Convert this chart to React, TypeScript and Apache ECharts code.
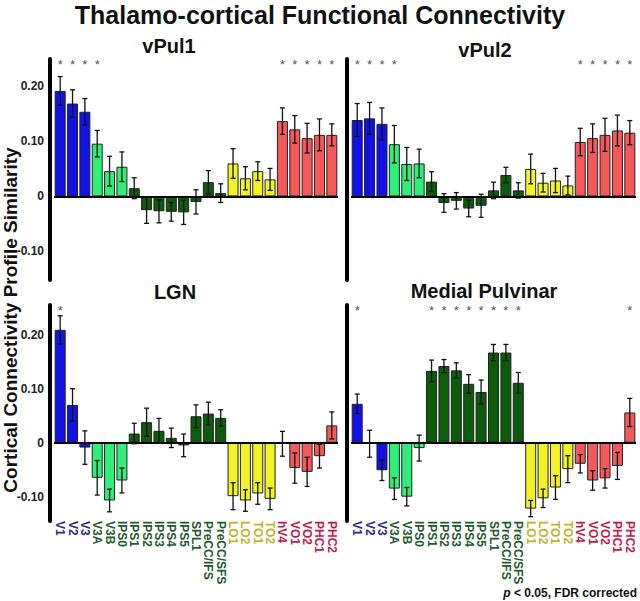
import React, { useEffect, useRef } from "react";
import * as echarts from "echarts";

const categories = ["V1","V2","V3","V3A","V3B","IPS0","IPS1","IPS2","IPS3","IPS4","IPS5","SPL1","PreCC/IFS","PreCC/SFS","LO1","LO2","TO1","TO2","hV4","VO1","VO2","PHC1","PHC2"];
// group index per category: 0 blue, 1 light green, 2 dark green, 3 yellow, 4 red
const groups = [0,0,0,1,1,1,2,2,2,2,2,2,2,2,3,3,3,3,4,4,4,4,4];
const barColors = ["#1212e8", "#30ee78", "#0c5c0c", "#f2f224", "#f55858"];
const labelColors = ["#2c2c80", "#1f5a30", "#bdb52e", "#c0194b"];

const vPul1 = [0.192,0.169,0.154,0.096,0.046,0.054,0.015,-0.025,-0.027,-0.028,-0.029,-0.010,0.026,0.006,0.060,0.033,0.046,0.031,0.137,0.122,0.106,0.112,0.112];
const vPul1Err = [0.026,0.025,0.024,0.024,0.027,0.027,0.019,0.024,0.021,0.017,0.022,0.022,0.021,0.017,0.027,0.021,0.017,0.020,0.024,0.025,0.027,0.029,0.020];
const vPul1Stars = [0,1,2,3,18,19,20,21,22];

const vPul2 = [0.139,0.142,0.132,0.095,0.059,0.060,0.027,-0.012,-0.008,-0.022,-0.017,0.011,0.039,0.011,0.050,0.025,0.029,0.020,0.099,0.106,0.112,0.120,0.116];
const vPul2Err = [0.030,0.029,0.029,0.034,0.030,0.026,0.018,0.017,0.015,0.015,0.021,0.015,0.014,0.014,0.027,0.017,0.022,0.017,0.025,0.026,0.030,0.028,0.022];
const vPul2Stars = [0,1,2,3,18,19,20,21,22];

const lgn = [0.209,0.070,-0.009,-0.065,-0.107,-0.070,0.017,0.038,0.022,0.009,-0.005,0.049,0.054,0.046,-0.099,-0.107,-0.094,-0.104,-0.002,-0.047,-0.054,-0.025,0.032];
const lgnErr = [0.026,0.030,0.031,0.032,0.021,0.023,0.019,0.026,0.023,0.018,0.021,0.021,0.021,0.015,0.025,0.020,0.020,0.020,0.023,0.028,0.027,0.022,0.025];
const lgnStars = [0];

const medial = [0.072,-0.002,-0.051,-0.085,-0.100,-0.010,0.133,0.142,0.134,0.109,0.094,0.167,0.167,0.111,-0.122,-0.103,-0.083,-0.049,-0.039,-0.070,-0.066,-0.043,0.056];
const medialErr = [0.018,0.025,0.019,0.020,0.017,0.024,0.020,0.012,0.014,0.017,0.022,0.015,0.015,0.019,0.015,0.017,0.022,0.025,0.017,0.018,0.018,0.025,0.026];
const medialStars = [0,6,7,8,9,10,11,12,13,22];

const yTicks = [-0.1, 0, 0.1, 0.2];

const FONT = '"Liberation Sans", Arial, Helvetica, sans-serif';

const panels = [
  { name: "vPul1", values: vPul1, errs: vPul1Err, stars: vPul1Stars, grid: { left: 54, top: 59, width: 284, height: 221 }, min: -0.152, max: 0.25, showY: true, showX: false, tx: 169, ty: 46 },
  { name: "vPul2", values: vPul2, errs: vPul2Err, stars: vPul2Stars, grid: { left: 351, top: 59, width: 285, height: 221 }, min: -0.152, max: 0.25, showY: false, showX: false, tx: 485, ty: 50 },
  { name: "LGN", values: lgn, errs: lgnErr, stars: lgnStars, grid: { left: 54, top: 305, width: 284, height: 216 }, min: -0.145, max: 0.255, showY: true, showX: true, tx: 175, ty: 292 },
  { name: "Medial Pulvinar", values: medial, errs: medialErr, stars: medialStars, grid: { left: 351, top: 305, width: 285, height: 216 }, min: -0.145, max: 0.255, showY: false, showX: true, tx: 484, ty: 291 },
];

function buildOption() {
  const grid: any[] = [];
  const xAxis: any[] = [];
  const yAxis: any[] = [];
  const series: any[] = [];
  const graphic: any[] = [];

  panels.forEach((p, k) => {
    grid.push({ ...p.grid, containLabel: false });
    xAxis.push({
      gridIndex: k,
      type: "category",
      data: categories,
      position: "bottom",
      axisLine: { show: false, onZero: false },
      axisTick: { show: false },
      splitLine: { show: false },
      axisLabel: {
        show: p.showX,
        interval: 0,
        rotate: -90,
        margin: 0,
        fontSize: 12,
        fontWeight: "bold",
        fontFamily: FONT,
        color: (_v: any, idx: number) => {
          const g = groups[idx];
          return labelColors[g === 0 ? 0 : g <= 2 ? 1 : g === 3 ? 2 : 3];
        },
      },
    });
    yAxis.push({
      gridIndex: k,
      type: "value",
      min: p.min,
      max: p.max,
      offset: 4,
      axisLine: { show: true, onZero: false, lineStyle: { color: "#000", width: 4 } },
      axisTick: { show: false },
      splitLine: { show: false },
      axisLabel: {
        show: p.showY,
        customValues: yTicks,
        margin: 6,
        fontSize: 12,
        fontWeight: "bold",
        fontFamily: FONT,
        color: "#222",
        formatter: (v: number) => (Math.abs(v) < 1e-9 ? "0" : v.toFixed(2)),
      },
    });
    series.push({
      type: "bar",
      xAxisIndex: k,
      yAxisIndex: k,
      data: p.values,
      barWidth: 11,
      itemStyle: {
        color: (params: any) => barColors[groups[params.dataIndex]],
        borderColor: "#222",
        borderWidth: 1,
      },
      markLine: {
        silent: true,
        symbol: ["none", "none"],
        label: { show: false },
        lineStyle: { color: "#000", width: 2, type: "solid" },
        data: [{ yAxis: 0 }],
      },
      z: 2,
    });
    series.push({
      type: "custom",
      xAxisIndex: k,
      yAxisIndex: k,
      data: p.values.map((v, i) => [i, v, p.errs[i]]),
      encode: { x: 0, y: 1 },
      z: 5,
      renderItem: (_params: any, api: any) => {
        const x = api.value(0);
        const v = api.value(1);
        const e = api.value(2);
        const top = api.coord([x, v + e]);
        const bot = api.coord([x, v - e]);
        const h = 2.5;
        const st = { stroke: "#111", lineWidth: 1.3 };
        return {
          type: "group",
          children: [
            { type: "line", shape: { x1: top[0], y1: top[1], x2: bot[0], y2: bot[1] }, style: st },
            { type: "line", shape: { x1: top[0] - h, y1: top[1], x2: top[0] + h, y2: top[1] }, style: st },
            { type: "line", shape: { x1: bot[0] - h, y1: bot[1], x2: bot[0] + h, y2: bot[1] }, style: st },
          ],
        };
      },
    });
    series.push({
      type: "scatter",
      xAxisIndex: k,
      yAxisIndex: k,
      data: p.stars.map((i) => [i, p.max]),
      symbolSize: 1,
      itemStyle: { color: "rgba(0,0,0,0)" },
      label: { show: true, formatter: "*", position: "inside", fontSize: 13, color: "#222", fontFamily: FONT, offset: [0, 5] },
      z: 6,
    });
    graphic.push({
      type: "text",
      x: p.tx,
      y: p.ty,
      style: { text: p.name, fontSize: 20, fontWeight: "bold", fontFamily: FONT, fill: "#111", textAlign: "center", textVerticalAlign: "middle" },
    });
  });

  graphic.push({
    type: "text",
    x: 320,
    y: 15,
    style: { text: "Thalamo-cortical Functional Connectivity", fontSize: 25, fontWeight: "bold", fontFamily: FONT, fill: "#111", textAlign: "center", textVerticalAlign: "middle" },
  });
  graphic.push({
    type: "text",
    x: 10,
    y: 320,
    rotation: Math.PI / 2,
    style: { text: "Cortical Connectivity Profile Similarity", fontSize: 19, fontWeight: "bold", fontFamily: FONT, fill: "#111", textAlign: "center", textVerticalAlign: "middle" },
  });
  graphic.push({
    type: "text",
    x: 637,
    y: 593,
    style: {
      text: "{i|p} < 0.05, FDR corrected",
      fontSize: 12,
      fontWeight: "bold",
      fontFamily: FONT,
      fill: "#111",
      textAlign: "right",
      textVerticalAlign: "middle",
      rich: { i: { fontStyle: "italic", fontWeight: "bold", fontSize: 12, fontFamily: FONT, fill: "#111" } },
    },
  });

  return {
    animation: false,
    backgroundColor: "#fff",
    textStyle: { fontFamily: FONT },
    grid,
    xAxis,
    yAxis,
    series,
    graphic,
  };
}

export default function App() {
  const ref = useRef<HTMLDivElement>(null);
  useEffect(() => {
    if (!ref.current) return;
    const chart = echarts.init(ref.current, undefined, { renderer: "svg" });
    chart.setOption(buildOption() as any);
    return () => chart.dispose();
  }, []);
  return <div ref={ref} style={{ position: "absolute", left: 0, top: 0, width: 640, height: 601 }} />;
}
